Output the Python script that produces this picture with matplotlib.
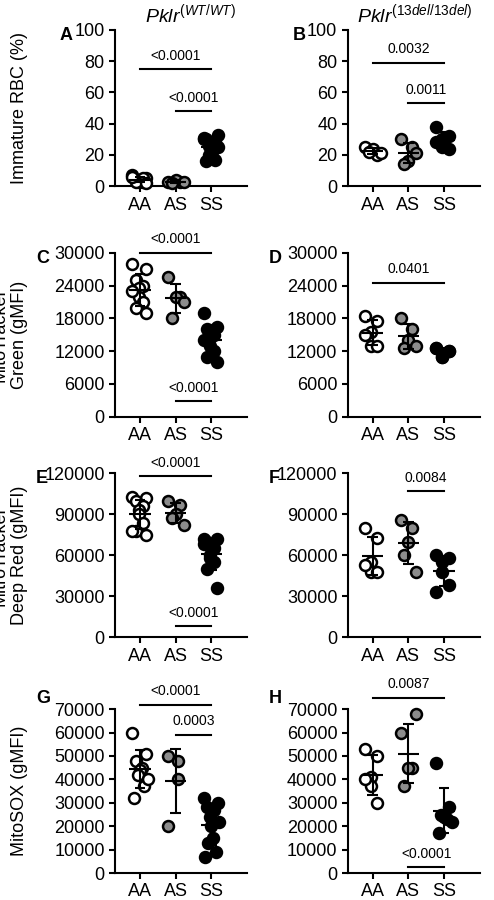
import numpy as np
import matplotlib
matplotlib.use("Agg")
from matplotlib import pyplot as plt

plt.rcParams['font.family'] = ['Liberation Sans', 'DejaVu Sans']
plt.rcParams['mathtext.fontset'] = 'custom'
plt.rcParams['mathtext.rm'] = 'Liberation Sans'
plt.rcParams['mathtext.it'] = 'Liberation Sans:italic'

groups = ['AA', 'AS', 'SS']
face_colors = ['white', '#8c8c8c', 'black']

# panel values
a_vals = [[7, 5, 4, 3, 3, 4, 5, 3, 2, 6], [3, 3, 4, 2, 3],
          [31, 33, 30, 28, 26, 24, 22, 20, 17, 16, 25, 30]]
b_vals = [[25, 20, 24, 22, 21], [30, 25, 16, 14, 21], [38, 32, 30, 25, 24, 28]]
c_vals = [[28000, 27000, 25000, 24000, 23500, 22000, 21000, 20000, 19000, 23000],
          [25500, 22000, 22000, 18000, 21000],
          [19000, 16500, 16000, 15000, 14500, 13000, 12000, 11000, 10000, 14000]]
d_vals = [[18500, 17500, 15500, 13000, 13000, 15000],
          [18000, 16000, 14000, 12500, 13000],
          [12500, 12000, 11000, 11000, 12000, 12500]]
e_vals = [[103000, 102000, 100000, 96000, 93000, 90000, 84000, 78000, 75000, 78000],
          [100000, 97000, 90000, 87000, 82000],
          [72000, 72000, 70000, 65000, 60000, 58000, 55000, 50000, 36000, 68000]]
f_vals = [[80000, 73000, 55000, 48000, 48000, 53000],
          [86000, 80000, 70000, 60000, 48000],
          [60000, 58000, 55000, 48000, 38000, 33000]]
g_vals = [[60000, 51000, 48000, 45000, 44000, 42000, 37000, 32000, 40000],
          [50000, 48000, 40000, 20000],
          [32000, 30000, 28000, 27000, 24000, 20000, 15000, 13000, 9000, 7000, 22000]]
h_vals = [[53000, 50000, 41000, 37000, 30000, 40000],
          [60000, 45000, 45000, 37000, 68000],
          [47000, 28000, 25000, 24000, 23000, 17000, 22000]]

# brackets: (from group, to group, y, label)
a_sig = [(0, 2, 75, '<0.0001'), (1, 2, 48, '<0.0001')]
b_sig = [(0, 2, 79, '0.0032'), (1, 2, 53, '0.0011')]
c_sig = [(0, 2, 30000, '<0.0001'), (1, 2, 2800, '<0.0001')]
d_sig = [(0, 2, 24500, '0.0401')]
e_sig = [(0, 2, 118000, '<0.0001'), (1, 2, 8000, '<0.0001')]
f_sig = [(1, 2, 107000, '0.0084')]
g_sig = [(0, 2, 72000, '<0.0001'), (1, 2, 59000, '0.0003')]
h_sig = [(0, 2, 75000, '0.0087'), (1, 2, 2500, '<0.0001')]

ylims = [(100, [0, 20, 40, 60, 80, 100]), (30000, [0, 6000, 12000, 18000, 24000, 30000]),
         (120000, [0, 30000, 60000, 90000, 120000]),
         (70000, [0, 10000, 20000, 30000, 40000, 50000, 60000, 70000])]
ylabels = ['Immature RBC (%)', 'MitoTracker\nGreen (gMFI)',
           'MitroTracker\nDeep Red (gMFI)', 'MitoSOX (gMFI)']

fig = plt.figure(figsize=(4.94, 9.0), dpi=100)
bottoms = [0.793, 0.537, 0.292, 0.030]
heights = [0.174, 0.182, 0.182, 0.182]
lefts = [0.233, 0.704]
panels = [(a_vals, a_sig), (b_vals, b_sig), (c_vals, c_sig), (d_vals, d_sig),
          (e_vals, e_sig), (f_vals, f_sig), (g_vals, g_sig), (h_vals, h_sig)]
letters = 'ABCDEFGH'

for k, (vals, sig) in enumerate(panels):
    row, col = k // 2, k % 2
    ax = fig.add_axes([lefts[col], bottoms[row], 0.267, heights[row]])
    top, ticks = ylims[row]
    for i, v in enumerate(vals):
        v = np.array(v)
        n = len(v)
        offs = np.linspace(-0.22, 0.22, n) * np.where(np.arange(n) % 2, -1, 1)
        ax.scatter(i + offs, v, s=62, facecolor=face_colors[i], edgecolor='black',
                   linewidth=1.8, zorder=3, clip_on=False)
        m, sd = v.mean(), v.std(ddof=1)
        ax.hlines(m, i - 0.3, i + 0.3, color='black', lw=1.5, zorder=4)
        ax.vlines(i, m - sd, m + sd, color='black', lw=1.5, zorder=4)
        ax.hlines([m - sd, m + sd], i - 0.15, i + 0.15, color='black', lw=1.5, zorder=4)
    for i, j, y, lab in sig:
        ax.plot([i, j], [y, y], color='black', lw=1.5, clip_on=False)
        ax.text((i + j) / 2, y + top * 0.04, lab, ha='center', va='bottom', fontsize=10)
    ax.set_xlim(-0.7, 3.0)
    ax.set_ylim(0, top)
    ax.set_yticks(ticks)
    ax.set_xticks(range(3))
    ax.set_xticklabels(groups)
    ax.tick_params(labelsize=13, width=1.5, length=4)
    ax.spines['top'].set_visible(False)
    ax.spines['right'].set_visible(False)
    ax.spines['left'].set_linewidth(1.5)
    ax.spines['bottom'].set_linewidth(1.5)
    if col == 0:
        ax.set_ylabel(ylabels[row], fontsize=13)
        ax.yaxis.set_label_coords(-0.66, 0.5)
    ax.text(-0.42 if row == 0 else -0.6, 1.02 if row < 3 else 1.12, letters[k],
            transform=ax.transAxes, fontsize=13, fontweight='bold', ha='left', va='top')

fig.text(0.385, 0.975, r'$Pklr^{(WT/WT)}$', ha='center', fontsize=14)
fig.text(0.84, 0.975, r'$Pklr^{(\mathit{13del/13del})}$', ha='center', fontsize=14)

fig.savefig('out.png', dpi=100)
